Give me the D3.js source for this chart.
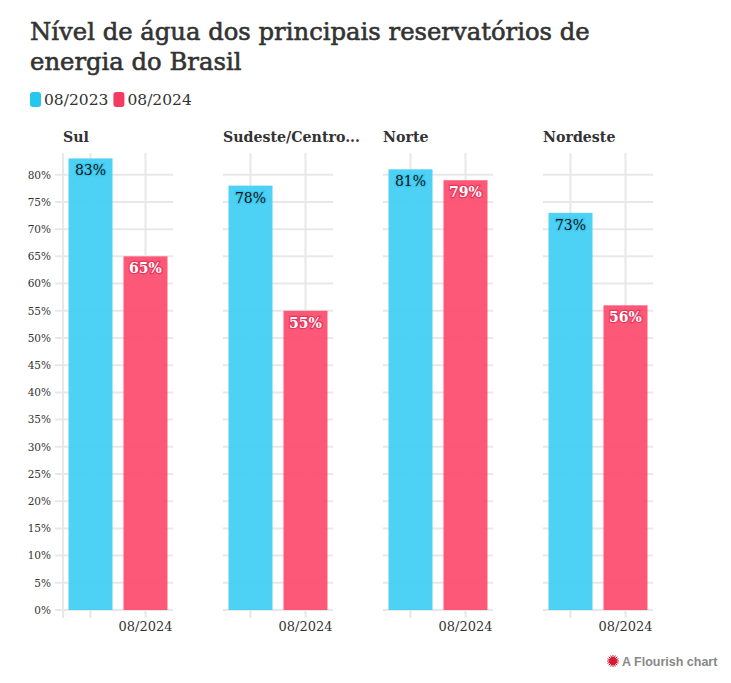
<!DOCTYPE html>
<html><head><meta charset="utf-8">
<script src="https://cdn.jsdelivr.net/npm/d3@7"></script>
<style>
html,body{margin:0;padding:0;background:#fff;}
svg{display:block;}
</style></head>
<body>
<svg id="chart" width="731" height="683"></svg>
<script>
const regions = ["Sul", "Sudeste/Centro...", "Norte", "Nordeste"];
const periods = ["08/2023", "08/2024"];
const values2023 = [83, 78, 81, 73];
const values2024 = [65, 55, 79, 56];
const yTicks = [0,5,10,15,20,25,30,35,40,45,50,55,60,65,70,75,80];
const xTickLabels = ["", "08/2024"];
const colors = ["#3fcdf3", "#fd4b6e"];
const legendColors = ["#25c6ef", "#f43a60"];

(function(){
const serif = "'DejaVu Serif', serif";
const svg = d3.select("#chart");

// Title
const title = svg.append("g").attr("font-family", serif).attr("fill", "#333")
  .attr("stroke", "#333").attr("stroke-width", 0.6);
const t1 = title.append("text").attr("x", 30).attr("y", 40).attr("font-size", 26).text("Nível de água dos principais reservatórios de");
const t2 = title.append("text").attr("x", 30).attr("y", 70).attr("font-size", 26).text("energia do Brasil");
const w = t1.node().getComputedTextLength();
const fs = 26 * 560 / w;
t1.attr("font-size", fs); t2.attr("font-size", fs);

// Legend
const leg = svg.append("g").attr("transform", "translate(30,92)");
let lx = 0;
periods.forEach((p, i) => {
  leg.append("rect").attr("x", lx).attr("y", 0).attr("width", 11).attr("height", 15).attr("rx", 3).attr("fill", legendColors[i]);
  const tx = leg.append("text").attr("x", lx + 14).attr("y", 13).attr("font-family", serif).attr("font-size", 15.5).attr("fill", "#333").text(p);
  lx += 14 + tx.node().getComputedTextLength() + 5;
});

// Panels
const panelW = 110, gapX = 50, left0 = 63, plotTop = 153, plotBottom = 610;
const y = d3.scaleLinear().domain([0, 84]).range([plotBottom, plotTop]);
const x = d3.scaleBand().domain(periods).range([0, panelW]).paddingInner(0.2).paddingOuter(0.1);
const gridColor = "#e8e8e8";

regions.forEach((r, i) => {
  const g = svg.append("g").attr("transform", `translate(${left0 + i*(panelW+gapX)},0)`);
  g.append("text").attr("x", 0).attr("y", 142).attr("font-family", serif).attr("font-weight", "bold")
    .attr("font-size", 14.2).attr("fill", "#333").text(r);
  g.append("g").selectAll("line").data(yTicks).join("line")
    .attr("x1", i === 0 ? -8 : 0).attr("x2", panelW)
    .attr("y1", d => y(d)).attr("y2", d => y(d))
    .attr("stroke", gridColor).attr("stroke-width", 2);
  g.append("g").selectAll("line").data(periods).join("line")
    .attr("x1", d => x(d) + x.bandwidth()/2).attr("x2", d => x(d) + x.bandwidth()/2)
    .attr("y1", plotTop).attr("y2", plotBottom + 8)
    .attr("stroke", gridColor).attr("stroke-width", 2);
  if (i === 0) {
    g.append("line").attr("x1", 0).attr("x2", 0).attr("y1", plotTop).attr("y2", plotBottom + 8)
      .attr("stroke", gridColor).attr("stroke-width", 2);
    const ya = d3.axisLeft(y).tickValues(yTicks).tickFormat(d => d + "%").tickSize(0).tickPadding(12);
    const ag = g.append("g").call(ya);
    ag.select(".domain").remove();
    ag.selectAll("text").attr("font-family", serif).attr("font-size", 10.5).attr("fill", "#333");
  }
  const xa = d3.axisBottom(x).tickSize(0).tickPadding(12).tickFormat((d, k) => xTickLabels[k]);
  const xg = g.append("g").attr("transform", `translate(0,${plotBottom})`).call(xa);
  xg.select(".domain").remove();
  xg.selectAll("text").attr("font-family", serif).attr("font-size", 13).attr("fill", "#333");

  const vals = [values2023[i], values2024[i]];
  g.append("g").selectAll("rect").data(periods).join("rect")
    .attr("x", d => x(d)).attr("width", x.bandwidth())
    .attr("y", (d, k) => y(vals[k])).attr("height", (d, k) => plotBottom - y(vals[k]))
    .attr("fill", (d, k) => colors[k]).attr("fill-opacity", 0.93);
  g.append("g").selectAll("text").data(periods).join("text")
    .attr("x", d => x(d) + x.bandwidth()/2).attr("y", (d, k) => y(vals[k]) + 17)
    .attr("text-anchor", "middle").attr("font-family", serif).attr("font-size", 14)
    .attr("font-weight", (d, k) => k === 1 ? "bold" : "normal")
    .attr("fill", (d, k) => k === 0 ? "#111" : "#fff")
    .attr("stroke", (d, k) => k === 0 ? "#3ac6ec" : "#e8375c").attr("stroke-width", 2.5)
    .attr("paint-order", "stroke")
    .text((d, k) => vals[k] + "%");
});

// Footer
const ft = svg.append("g").attr("transform", "translate(613,661)");
const star = ft.append("g");
for (let a = 0; a < 16; a++) {
  const ang = a * Math.PI / 8;
  star.append("line").attr("x1", 0).attr("y1", 0).attr("x2", 6*Math.cos(ang)).attr("y2", 6*Math.sin(ang))
    .attr("stroke", "#c5162d").attr("stroke-width", 1);
}
star.append("circle").attr("r", 4).attr("fill", "#d8182f");
ft.append("text").attr("x", 9).attr("y", 5).attr("font-family", "'Liberation Sans', Arial, sans-serif")
  .attr("font-weight", "bold").attr("font-size", 12.5).attr("fill", "#888").text("A Flourish chart");
})();
</script>
</body></html>
